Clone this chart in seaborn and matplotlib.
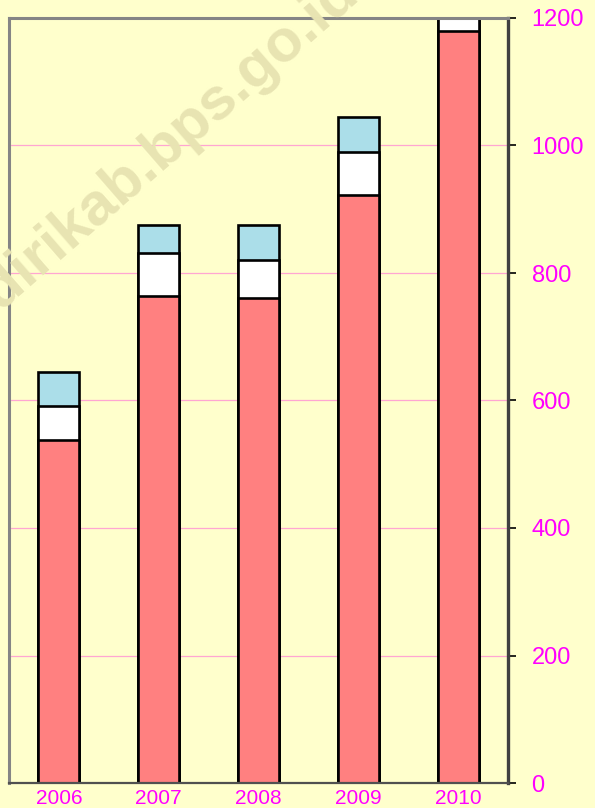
import matplotlib
matplotlib.use("Agg")
import matplotlib.pyplot as plt
import seaborn as sns
import pandas as pd
import numpy as np

years = ["2006", "2007", "2008", "2009", "2010"]
red_vals = [538, 764, 760, 923, 1180]
white_vals = [54, 68, 60, 67, 65]
blue_vals = [52, 44, 56, 55, 55]
yticks = [0, 200, 400, 600, 800, 1000, 1200]

BG = "#FFFFCC"
sns.set_style("white")
plt.rcParams["font.family"] = ["Liberation Sans", "DejaVu Sans"]

df = pd.DataFrame({
    "year": years,
    "red": red_vals,
    "white": white_vals,
    "blue": blue_vals,
})
df["lvl1"] = df["red"]
df["lvl2"] = df["red"] + df["white"]
df["lvl3"] = df["lvl2"] + df["blue"]

fig = plt.figure(figsize=(5.95, 8.08), dpi=100, facecolor=BG)
ax = fig.add_axes([9 / 595, 25 / 808, 499 / 595, 765 / 808])
ax.set_facecolor(BG)

# watermark
fig.text(145 / 595, 1 - 163 / 808, "kedirikab.bps.go.id", rotation=41,
         rotation_mode="anchor", ha="center", va="center", fontsize=43,
         fontweight="bold", color="#E8E4B2", zorder=0.5)

common = dict(x="year", order=years, width=0.41, edgecolor="black", linewidth=1.9,
              ax=ax, zorder=3)
sns.barplot(data=df, y="lvl3", color="#ABDEE9", saturation=1, **common)
sns.barplot(data=df, y="lvl2", color="#FFFFFF", saturation=1, **common)
sns.barplot(data=df, y="lvl1", color="#FF8080", saturation=1, **common)

ax.set_ylim(0, 1200)
ax.set_xlim(-0.5, 4.5)
ax.set_xlabel("")
ax.set_ylabel("")

ax.set_yticks(yticks)
ax.set_yticklabels([str(v) for v in yticks])
ax.yaxis.tick_right()
ax.tick_params(axis="y", which="major", direction="out", length=6, width=1.2,
               color="black", pad=11, labelsize=17, labelcolor="#FF00FF")
for v in yticks[1:-1]:
    ax.axhline(v, color="#FFA6D2", lw=0.9, zorder=1)

ax.set_xticks(range(len(years)))
ax.set_xticklabels(years)
ax.tick_params(axis="x", which="major", length=0, pad=4, labelsize=15,
               labelcolor="#FF00FF")
ax.set_xticks(np.arange(-0.5, 5.0, 1.0), minor=True)
ax.tick_params(axis="x", which="minor", direction="out", length=30, width=1.0,
               color="#808060")

for s in ["left", "top"]:
    ax.spines[s].set_color("#858585")
    ax.spines[s].set_linewidth(2.2)
ax.spines["right"].set_color("#404040")
ax.spines["right"].set_linewidth(2.4)
ax.spines["bottom"].set_color("#505050")
ax.spines["bottom"].set_linewidth(1.6)
for s in ax.spines.values():
    s.set_zorder(4)

fig.savefig("out.png", dpi=100, facecolor=BG)
